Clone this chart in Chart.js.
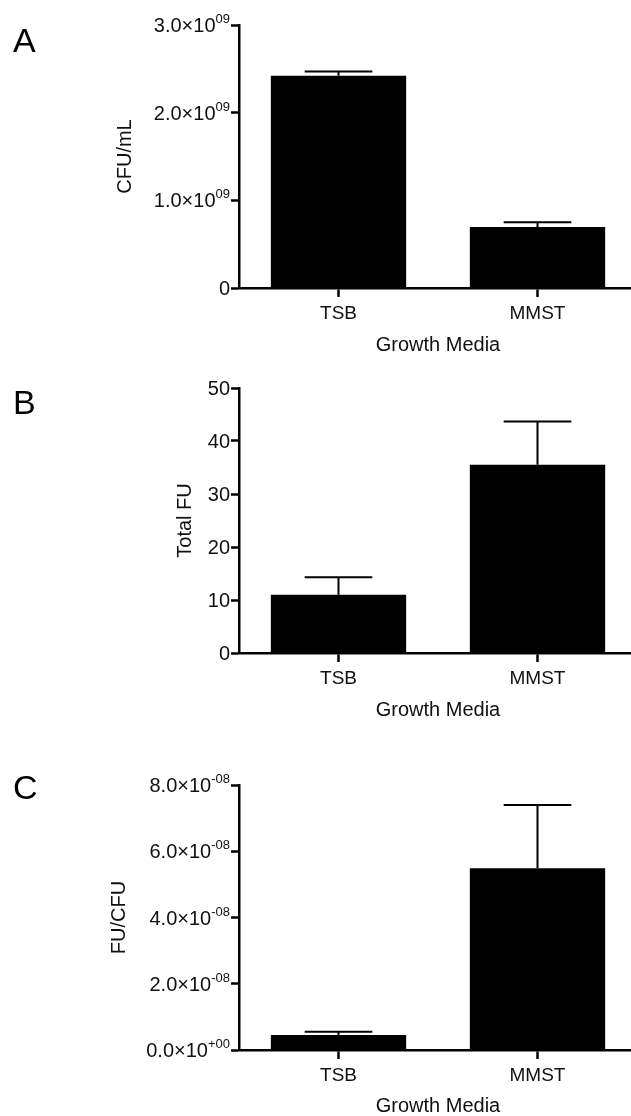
<!DOCTYPE html>
<html>
<head>
<meta charset="utf-8">
<title>Growth media comparison</title>
<script src="https://cdn.jsdelivr.net/npm/chart.js@4.4.1/dist/chart.umd.min.js"></script>
<style>
  html, body { margin: 0; padding: 0; background: #fff; overflow: hidden; }
  #page { position: relative; width: 631px; height: 1116px; overflow: hidden; }
  .panel { position: absolute; left: 0; }
  .letter {
    position: absolute; left: 13px; color: #000; line-height: 1;
    font: 34px "Liberation Sans", Arial, sans-serif;
  }
</style>
</head>
<body>
<div id="page">
  <canvas class="panel" id="chartA" width="640" height="370" style="top:0"></canvas>
  <canvas class="panel" id="chartB" width="640" height="360" style="top:370px"></canvas>
  <canvas class="panel" id="chartC" width="640" height="386" style="top:730px"></canvas>
  <div class="letter" style="top:21px">A</div>
  <div class="letter" style="top:383px">B</div>
  <div class="letter" style="top:768px">C</div>
</div>
<script>
// data
const categories = ['TSB', 'MMST'];

const cfuMean = [2.42e9, 0.695e9];
const cfuErr = [0.05e9, 0.055e9];
const cfuTickValues = [0, 1e9, 2e9, 3e9];
const cfuTickLabels = ['0', '1.0×10', '2.0×10', '3.0×10'];
const cfuTickExps = ['', '09', '09', '09'];

const fuMean = [11.0, 35.5];
const fuErr = [3.3, 8.2];
const fuTickValues = [0, 10, 20, 30, 40, 50];
const fuTickLabels = ['0', '10', '20', '30', '40', '50'];
const fuTickExps = ['', '', '', '', '', ''];

const ratioMean = [0.45e-8, 5.49e-8];
const ratioErr = [0.1e-8, 1.91e-8];
const ratioTickValues = [0, 2e-8, 4e-8, 6e-8, 8e-8];
const ratioTickLabels = ['0.0×10', '2.0×10', '4.0×10', '6.0×10', '8.0×10'];
const ratioTickExps = ['+00', '-08', '-08', '-08', '-08'];

const FONT = '"Liberation Sans", Arial, sans-serif';
const INK = '#111';

// error bars (mean + SEM, upper half only, like the original)
const errorBars = {
  id: 'errorBars',
  afterDatasetsDraw(chart, args, opts) {
    const {ctx} = chart;
    const y = chart.scales.y;
    const ds = chart.data.datasets[0];
    ctx.save();
    ctx.strokeStyle = '#000';
    ctx.lineWidth = 2;
    chart.getDatasetMeta(0).data.forEach((bar, i) => {
      const top = y.getPixelForValue(ds.data[i] + opts.errors[i]);
      const half = bar.width / 4;
      ctx.beginPath();
      ctx.moveTo(bar.x, bar.y);
      ctx.lineTo(bar.x, top);
      ctx.moveTo(bar.x - half, top);
      ctx.lineTo(bar.x + half, top);
      ctx.stroke();
    });
    ctx.restore();
  }
};

// y tick labels with a raised exponent (e.g. 2.0×10^09), placed on the y scale ticks
const sciTicks = {
  id: 'sciTicks',
  afterDraw(chart, args, opts) {
    const {ctx} = chart;
    const y = chart.scales.y;
    const xRight = chart.chartArea.left - 8 - 1;
    ctx.save();
    ctx.fillStyle = INK;
    ctx.textAlign = 'right';
    ctx.textBaseline = 'alphabetic';
    y.ticks.forEach((t, i) => {
      const py = y.getPixelForValue(t.value);
      const exp = opts.exps[i];
      ctx.font = '13px ' + FONT;
      const ew = exp ? ctx.measureText(exp).width : 0;
      if (exp) ctx.fillText(exp, xRight, py - 2);
      ctx.font = '20px ' + FONT;
      ctx.fillText(opts.labels[i], xRight - ew, py + 7);
    });
    ctx.restore();
  }
};

function makePanel(id, p) {
  const canvas = document.getElementById(id);
  const h = canvas.height;
  new Chart(canvas, {
    type: 'bar',
    data: {
      labels: categories,
      datasets: [{
        data: p.mean,
        backgroundColor: '#000',
        borderWidth: 0,
        barPercentage: 0.68,
        categoryPercentage: 1.0
      }]
    },
    options: {
      responsive: false,
      animation: false,
      events: [],
      layout: { padding: { top: p.areaTop, right: 3, bottom: 0, left: 0 } },
      plugins: {
        legend: { display: false },
        tooltip: { enabled: false },
        errorBars: { errors: p.err },
        sciTicks: { labels: p.tickLabels, exps: p.tickExps }
      },
      scales: {
        x: {
          afterFit: s => { s.height = h - p.areaBottom; },
          grid: { display: true, offset: false, drawOnChartArea: false, drawTicks: true,
                  tickLength: 9, tickWidth: 2.5, color: '#000' },
          border: { display: true, color: '#000', width: 2.5 },
          ticks: { color: INK, font: { family: FONT, size: 19 }, padding: 5,
                   maxRotation: 0, autoSkip: false },
          title: { display: true, text: 'Growth Media', color: INK,
                   font: { family: FONT, size: 20, lineHeight: 1 },
                   padding: { top: 0, bottom: p.xTitlePad } }
        },
        y: {
          min: 0,
          max: p.tickValues[p.tickValues.length - 1],
          afterFit: s => { s.width = 239; },
          afterBuildTicks: s => { s.ticks = p.tickValues.map(v => ({ value: v })); },
          grid: { display: true, drawOnChartArea: false, drawTicks: true,
                  tickLength: 8, tickWidth: 2.5, color: '#000' },
          border: { display: true, color: '#000', width: 2.5 },
          ticks: { display: false },
          title: { display: true, text: p.yTitle, color: INK,
                   font: { family: FONT, size: 20, lineHeight: 1 },
                   padding: { top: p.yTitleX - 10, bottom: 0 } }
        }
      }
    },
    plugins: [errorBars, sciTicks]
  });
}

makePanel('chartA', {
  mean: cfuMean, err: cfuErr, tickValues: cfuTickValues,
  tickLabels: cfuTickLabels, tickExps: cfuTickExps,
  yTitle: 'CFU/mL', areaTop: 25, areaBottom: 288, xTitlePad: 15, yTitleX: 125
});
makePanel('chartB', {
  mean: fuMean, err: fuErr, tickValues: fuTickValues,
  tickLabels: fuTickLabels, tickExps: fuTickExps,
  yTitle: 'Total FU', areaTop: 18, areaBottom: 283, xTitlePad: 10, yTitleX: 185
});
makePanel('chartC', {
  mean: ratioMean, err: ratioErr, tickValues: ratioTickValues,
  tickLabels: ratioTickLabels, tickExps: ratioTickExps,
  yTitle: 'FU/CFU', areaTop: 55, areaBottom: 320, xTitlePad: 0, yTitleX: 119
});
</script>
</body>
</html>
